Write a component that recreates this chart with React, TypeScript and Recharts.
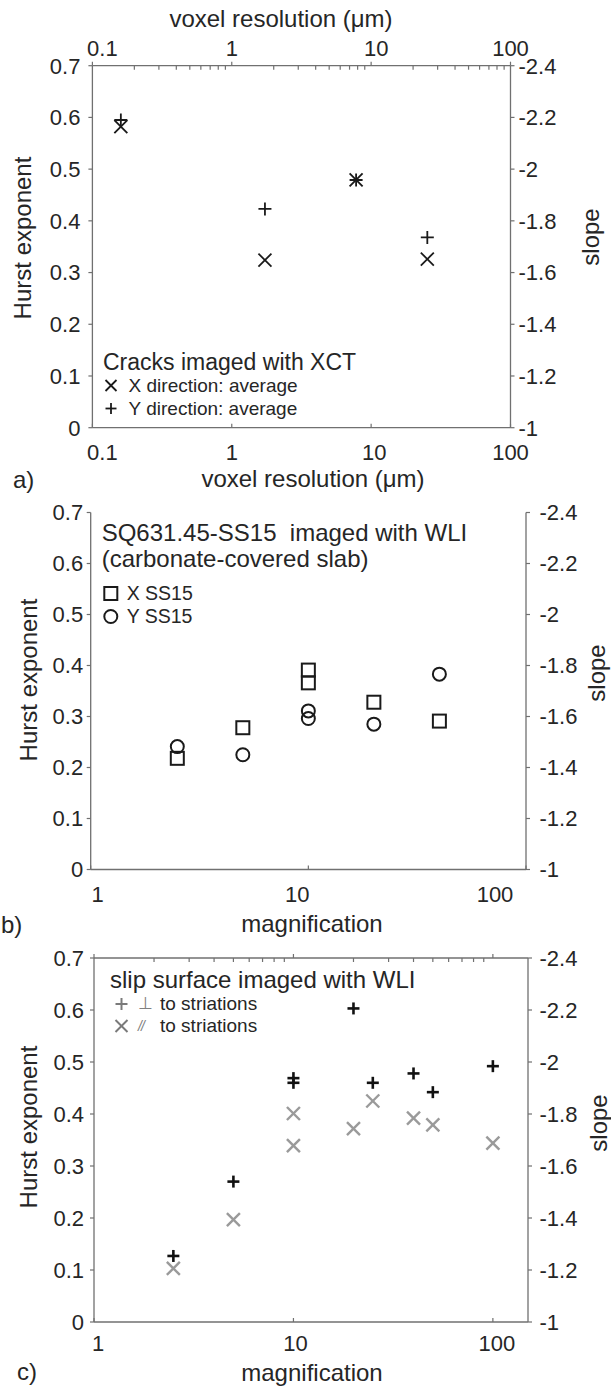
import React from 'react';
import { ScatterChart, Scatter, XAxis, YAxis, Legend } from 'recharts';

const FONT = '"Liberation Sans", Arial, Helvetica, sans-serif';
const INK = '#262626';
const AXIS = '#707070';
const GREY = '#9a9a9a';

// a) cracks imaged with XCT, x = voxel resolution (um)
const xctResolution = [0.16, 1.73, 7.8, 25.3];
const xctHurstX = [0.582, 0.324, 0.479, 0.326];
const xctHurstY = [0.595, 0.423, 0.479, 0.368];

// b) SQ631.45-SS15 imaged with WLI, x = magnification
const ss15Mag = [2.5, 5, 10, 10, 20, 40];
const ss15HurstX = [0.218, 0.278, 0.391, 0.366, 0.328, 0.291];
const ss15HurstY = [0.241, 0.225, 0.311, 0.296, 0.285, 0.383];

// c) slip surface imaged with WLI, x = magnification
const slipMag = [2.5, 5, 10, 10, 20, 25, 40, 50, 100];
const slipHurstPerp = [0.127, 0.27, 0.469, 0.46, 0.603, 0.46, 0.478, 0.442, 0.492];
const slipHurstPar = [0.103, 0.197, 0.401, 0.339, 0.372, 0.425, 0.392, 0.379, 0.344];

const hurstTicks = [0, 0.1, 0.2, 0.3, 0.4, 0.5, 0.6, 0.7];
const resolutionTicks = [0.1, 1, 10, 100];
const resolutionMinor = [0.2, 0.3, 0.4, 0.5, 0.6, 0.7, 0.8, 0.9, 2, 3, 4, 5, 6, 7, 8, 9, 20, 30, 40, 50, 60, 70, 80, 90];
const magTicks = [1, 10, 100];
const magMinor = [2, 3, 4, 5, 6, 7, 8, 9, 20, 30, 40, 50, 60, 70, 80, 90];

const pts = (xs: number[], ys: number[]) => xs.map((x, i) => ({ x, y: ys[i] }));
const toSlope = (h: number) => String(+(-(1 + 2 * h)).toFixed(1));
const isDecade = (v: number) => Math.abs(Math.log10(v) - Math.round(Math.log10(v))) < 1e-6;

type Mark = 'x' | 'plus' | 'square' | 'circle';

function drawMark(kind: Mark, cx: number, cy: number, size: number, width: number, color: string) {
  const r = size / 2;
  if (kind === 'x')
    return (
      <g stroke={color} strokeWidth={width}>
        <line x1={cx - r} y1={cy - r} x2={cx + r} y2={cy + r} />
        <line x1={cx - r} y1={cy + r} x2={cx + r} y2={cy - r} />
      </g>
    );
  if (kind === 'plus')
    return (
      <g stroke={color} strokeWidth={width}>
        <line x1={cx - r} y1={cy} x2={cx + r} y2={cy} />
        <line x1={cx} y1={cy - r} x2={cx} y2={cy + r} />
      </g>
    );
  if (kind === 'square')
    return <rect x={cx - r} y={cy - r} width={size} height={size} fill="none" stroke={color} strokeWidth={width} />;
  return <circle cx={cx} cy={cy} r={r} fill="none" stroke={color} strokeWidth={width} />;
}

const markShape = (kind: Mark, size: number, width: number, color: string) => (p: any) =>
  drawMark(kind, p.cx, p.cy, size, width, color);

// invisible series that only gives the top (log) axis its domain
const noShape = () => <g />;

type TickCfg = {
  side: 'top' | 'bottom';
  labels: boolean;
  baseline?: number;
  majorLen: number; // + inward, - outward
  minorLen: number;
  shift?: Record<string, number>;
};

const logTick = (o: TickCfg) => (p: any) => {
  const v = p.payload.value;
  const major = isDecade(v);
  const inward = o.side === 'top' ? 1 : -1;
  const len = major ? o.majorLen : o.minorLen;
  const dx = (o.shift && o.shift[String(v)]) || 0;
  return (
    <g>
      {len !== 0 && <line x1={p.x} x2={p.x} y1={p.y} y2={p.y + inward * len} stroke={AXIS} strokeWidth={1.2} />}
      {o.labels && major && (
        <text x={p.x + dx} y={p.y + (o.baseline || 0)} textAnchor="middle" fontSize={22} fill={INK} fontFamily={FONT}>
          {String(v)}
        </text>
      )}
    </g>
  );
};

type LegendCfg = {
  title: string[];
  titleSize: number;
  titleLine: number;
  itemSize: number;
  itemLine: number;
  gap: number;
  iconW: number;
  textGap: number;
  marks: Record<string, Mark>;
  order: string[];
  iconSize: number;
  iconStroke: number;
  iconColor: string;
  splitSymbol?: boolean;
};

const legendContent = (c: LegendCfg) => (props: any) => {
  const entries = (props.payload || []).filter((e: any) => c.marks[String(e.value)]);
  entries.sort((a: any, b: any) => c.order.indexOf(String(a.value)) - c.order.indexOf(String(b.value)));
  return (
    <div style={{ fontFamily: FONT, color: INK, whiteSpace: 'pre' }}>
      {c.title.map((t) => (
        <div key={t} style={{ fontSize: c.titleSize, lineHeight: `${c.titleLine}px` }}>
          {t}
        </div>
      ))}
      <div style={{ height: c.gap }} />
      {entries.map((entry: any) => {
        const name = String(entry.value);
        const sym = c.splitSymbol ? name.split(' ')[0] : '';
        const rest = c.splitSymbol ? name.slice(sym.length + 1) : name;
        return (
          <div key={name} style={{ display: 'flex', alignItems: 'center', fontSize: c.itemSize, lineHeight: `${c.itemLine}px` }}>
            <svg width={c.iconW} height={c.itemLine} style={{ marginRight: c.textGap, flex: 'none' }}>
              {drawMark(c.marks[name], c.iconW / 2, c.itemLine / 2, c.iconSize, c.iconStroke, c.iconColor)}
            </svg>
            {c.splitSymbol && (
              <span
                style={{
                  width: 22,
                  color: '#808080',
                  fontSize: sym === '⊥' ? 17 : 14,
                  fontStyle: sym === '⊥' ? 'normal' : 'italic',
                  letterSpacing: sym === '⊥' ? 0 : -1,
                }}
              >
                {sym}
              </span>
            )}
            <span>{rest}</span>
          </div>
        );
      })}
    </div>
  );
};

const yTick = { fontSize: 22, fill: INK, fontFamily: FONT };
const axisLine = { stroke: AXIS, strokeWidth: 1.3 };
const tickLine = { stroke: AXIS, strokeWidth: 1.2 };

const PanelA = () => (
  <ScatterChart width={611} height={470} margin={{ top: 0, right: 0, bottom: 0, left: 0 }}>
    <XAxis
      xAxisId="b"
      dataKey="x"
      type="number"
      scale="log"
      domain={[0.1, 100]}
      allowDataOverflow
      ticks={resolutionTicks}
      interval={0}
      height={42.3}
      tickSize={0}
      tickMargin={0}
      tickLine={false}
      axisLine={axisLine}
      tick={logTick({ side: 'bottom', labels: true, baseline: 32.3, majorLen: 4, minorLen: 0, shift: { '0.1': 10, '10': 3 } })}
    />
    <XAxis
      xAxisId="t"
      dataKey="x"
      orientation="top"
      type="number"
      scale="log"
      domain={[0.1, 100]}
      allowDataOverflow
      ticks={[...resolutionTicks, ...resolutionMinor]}
      interval={0}
      height={65.7}
      tickSize={0}
      tickMargin={0}
      tickLine={false}
      axisLine={axisLine}
      tick={logTick({ side: 'top', labels: true, baseline: -9.7, majorLen: -4, minorLen: 4, shift: { '0.1': 10, '10': 5 } })}
    />
    <YAxis
      yAxisId="h"
      dataKey="y"
      type="number"
      domain={[0, 0.7]}
      allowDataOverflow
      ticks={hurstTicks}
      interval={0}
      width={92.4}
      tickSize={4}
      tickMargin={8}
      tickLine={tickLine}
      axisLine={axisLine}
      tick={yTick}
    />
    <YAxis
      yAxisId="s"
      orientation="right"
      type="number"
      domain={[0, 0.7]}
      allowDataOverflow
      ticks={hurstTicks}
      interval={0}
      width={100.5}
      tickSize={4}
      tickMargin={4}
      tickLine={tickLine}
      axisLine={axisLine}
      tick={yTick}
      tickFormatter={toSlope}
    />
    <Scatter xAxisId="t" yAxisId="h" data={pts(xctResolution, xctHurstX)} shape={noShape} legendType="none" isAnimationActive={false} />
    <Scatter xAxisId="b" yAxisId="h" name="X direction: average" data={pts(xctResolution, xctHurstX)} fill={INK} shape={markShape('x', 13, 1.8, '#1a1a1a')} isAnimationActive={false} />
    <Scatter xAxisId="b" yAxisId="h" name="Y direction: average" data={pts(xctResolution, xctHurstY)} fill={INK} shape={markShape('plus', 13, 1.8, '#1a1a1a')} isAnimationActive={false} />
    <Legend
      layout="vertical"
      align="center"
      verticalAlign="middle"
      wrapperStyle={{ left: 103, top: 350, width: 'auto', height: 'auto' }}
      content={legendContent({
        title: ['Cracks imaged with XCT'],
        titleSize: 23,
        titleLine: 24,
        itemSize: 19,
        itemLine: 23,
        gap: 0,
        iconW: 16,
        textGap: 9.6,
        marks: { 'X direction: average': 'x', 'Y direction: average': 'plus' },
        order: ['X direction: average', 'Y direction: average'],
        iconSize: 11,
        iconStroke: 1.8,
        iconColor: '#1a1a1a',
      })}
    />
  </ScatterChart>
);

const PanelB = () => (
  <ScatterChart width={611} height={460} margin={{ top: 42.5, right: 0, bottom: 0, left: 0 }}>
    <XAxis
      xAxisId="b"
      dataKey="x"
      type="number"
      scale="log"
      domain={[1, 100]}
      allowDataOverflow
      ticks={magTicks}
      interval={0}
      height={60.5}
      tickSize={0}
      tickMargin={0}
      tickLine={false}
      axisLine={axisLine}
      tick={logTick({ side: 'bottom', labels: true, baseline: 32.5, majorLen: 4, minorLen: 0, shift: { '1': 7, '10': -11, '100': -31 } })}
    />
    <XAxis xAxisId="t" orientation="top" type="number" scale="log" domain={[1, 100]} allowDataOverflow height={0} tick={false} tickLine={false} axisLine={axisLine} />
    <YAxis
      yAxisId="h"
      dataKey="y"
      type="number"
      domain={[0, 0.7]}
      allowDataOverflow
      ticks={hurstTicks}
      interval={0}
      width={90.7}
      tickSize={4}
      tickMargin={3.5}
      tickLine={tickLine}
      axisLine={axisLine}
      tick={yTick}
    />
    <YAxis
      yAxisId="s"
      orientation="right"
      type="number"
      domain={[0, 0.7]}
      allowDataOverflow
      ticks={hurstTicks}
      interval={0}
      width={85}
      tickSize={4}
      tickMargin={9.5}
      tickLine={tickLine}
      axisLine={axisLine}
      tick={yTick}
      tickFormatter={toSlope}
    />
    <Scatter xAxisId="b" yAxisId="h" name="X SS15" data={pts(ss15Mag, ss15HurstX)} fill={INK} shape={markShape('square', 13, 2, '#1a1a1a')} isAnimationActive={false} />
    <Scatter xAxisId="b" yAxisId="h" name="Y SS15" data={pts(ss15Mag, ss15HurstY)} fill={INK} shape={markShape('circle', 13, 2, '#1a1a1a')} isAnimationActive={false} />
    <Legend
      layout="vertical"
      align="center"
      verticalAlign="middle"
      wrapperStyle={{ left: 101.7, top: 49.7, width: 'auto', height: 'auto' }}
      content={legendContent({
        title: ['SQ631.45-SS15  imaged with WLI', '(carbonate-covered slab)'],
        titleSize: 24,
        titleLine: 26,
        itemSize: 19.5,
        itemLine: 23,
        gap: 10,
        iconW: 17.6,
        textGap: 7.4,
        marks: { 'X SS15': 'square', 'Y SS15': 'circle' },
        order: ['X SS15', 'Y SS15'],
        iconSize: 13,
        iconStroke: 2,
        iconColor: '#1a1a1a',
      })}
    />
  </ScatterChart>
);

const PanelC = () => (
  <ScatterChart width={611} height={460} margin={{ top: 0, right: 0, bottom: 0, left: 0 }}>
    <XAxis
      xAxisId="b"
      dataKey="x"
      type="number"
      scale="log"
      domain={[1, 150]}
      allowDataOverflow
      ticks={magTicks}
      interval={0}
      height={68}
      tickSize={0}
      tickMargin={0}
      tickLine={false}
      axisLine={axisLine}
      tick={logTick({ side: 'bottom', labels: true, baseline: 29, majorLen: 4, minorLen: 0, shift: { '1': 4, '10': 2, '100': 4 } })}
    />
    <XAxis
      xAxisId="t"
      dataKey="x"
      orientation="top"
      type="number"
      scale="log"
      domain={[1, 150]}
      allowDataOverflow
      ticks={[...magTicks, ...magMinor]}
      interval={0}
      height={28}
      tickSize={0}
      tickMargin={0}
      tickLine={false}
      axisLine={axisLine}
      tick={logTick({ side: 'top', labels: false, majorLen: -4, minorLen: 4 })}
    />
    <YAxis
      yAxisId="h"
      dataKey="y"
      type="number"
      domain={[0, 0.7]}
      allowDataOverflow
      ticks={hurstTicks}
      interval={0}
      width={94}
      tickSize={4}
      tickMargin={6}
      tickLine={tickLine}
      axisLine={axisLine}
      tick={yTick}
    />
    <YAxis
      yAxisId="s"
      orientation="right"
      type="number"
      domain={[0, 0.7]}
      allowDataOverflow
      ticks={hurstTicks}
      interval={0}
      width={83}
      tickSize={4}
      tickMargin={7.5}
      tickLine={tickLine}
      axisLine={axisLine}
      tick={yTick}
      tickFormatter={toSlope}
    />
    <Scatter xAxisId="t" yAxisId="h" data={pts(slipMag, slipHurstPerp)} shape={noShape} legendType="none" isAnimationActive={false} />
    <Scatter xAxisId="b" yAxisId="h" name="⊥ to striations" data={pts(slipMag, slipHurstPerp)} fill={INK} shape={markShape('plus', 12, 2.6, '#111')} isAnimationActive={false} />
    <Scatter xAxisId="b" yAxisId="h" name="// to striations" data={pts(slipMag, slipHurstPar)} fill={GREY} shape={markShape('x', 13, 2.4, GREY)} isAnimationActive={false} />
    <Legend
      layout="vertical"
      align="center"
      verticalAlign="middle"
      wrapperStyle={{ left: 110, top: 36.7, width: 'auto', height: 'auto' }}
      content={legendContent({
        title: ['slip surface imaged with WLI'],
        titleSize: 24,
        titleLine: 26,
        itemSize: 19,
        itemLine: 22,
        gap: 0,
        iconW: 23,
        textGap: 5,
        marks: { '⊥ to striations': 'plus', '// to striations': 'x' },
        order: ['⊥ to striations', '// to striations'],
        iconSize: 12,
        iconStroke: 2,
        iconColor: '#7a7a7a',
        splitSymbol: true,
      })}
    />
  </ScatterChart>
);

const titleStyle = { fontFamily: FONT, fontSize: 24, fill: INK };

const Vertical = ({ x, y, children }: { x: number; y: number; children: React.ReactNode }) => (
  <text transform={`translate(${x},${y}) rotate(-90)`} textAnchor="middle" dominantBaseline="central" style={titleStyle}>
    {children}
  </text>
);

export default function App() {
  return (
    <div style={{ position: 'absolute', left: 0, top: 0, width: 611, height: 1390, background: '#fff', overflow: 'hidden' }}>
      <div style={{ position: 'absolute', left: 0, top: 0 }}>
        <PanelA />
      </div>
      <div style={{ position: 'absolute', left: 0, top: 470 }}>
        <PanelB />
      </div>
      <div style={{ position: 'absolute', left: 0, top: 930 }}>
        <PanelC />
      </div>
      <svg width={611} height={1390} style={{ position: 'absolute', left: 0, top: 0, pointerEvents: 'none' }}>
        <text x={281} y={27} textAnchor="middle" style={titleStyle}>voxel resolution (μm)</text>
        <text x={313} y={487} textAnchor="middle" style={titleStyle}>voxel resolution (μm)</text>
        <text x={13} y={488} style={titleStyle}>a)</text>
        <Vertical x={22} y={238}>Hurst exponent</Vertical>
        <Vertical x={590} y={237}>slope</Vertical>

        <text x={312} y={932} textAnchor="middle" style={titleStyle}>magnification</text>
        <text x={1} y={933} style={titleStyle}>b)</text>
        <Vertical x={28} y={680}>Hurst exponent</Vertical>
        <Vertical x={596} y={673}>slope</Vertical>

        <text x={312} y={1381} textAnchor="middle" style={titleStyle}>magnification</text>
        <text x={17} y={1380} style={titleStyle}>c)</text>
        <Vertical x={28} y={1127}>Hurst exponent</Vertical>
        <Vertical x={598} y={1123}>slope</Vertical>
      </svg>
    </div>
  );
}
